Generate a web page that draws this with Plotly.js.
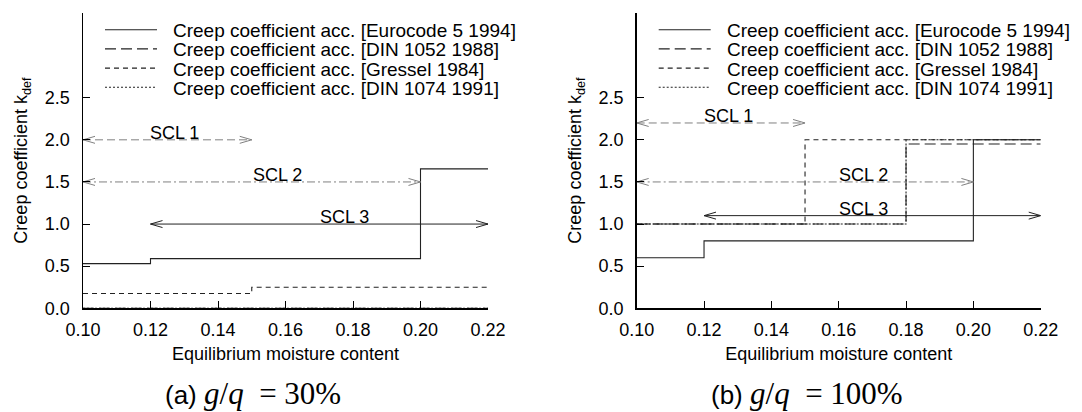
<!DOCTYPE html>
<html>
<head>
<meta charset="utf-8">
<script src="https://cdn.plot.ly/plotly-3.0.1.min.js"></script>
<style>html,body{margin:0;padding:0;background:#fff;}#chart{width:1082px;height:412px;}</style>
</head>
<body>
<div id="chart"></div>
<script>
// ---------- data ----------
var seriesNames = [
  'Creep coefficient acc. [Eurocode 5 1994]',
  'Creep coefficient acc. [DIN 1052 1988]',
  'Creep coefficient acc. [Gressel 1984]',
  'Creep coefficient acc. [DIN 1074 1991]'
];
var xTicks = [0.10, 0.12, 0.14, 0.16, 0.18, 0.20, 0.22];
var yTicks = [0.0, 0.5, 1.0, 1.5, 2.0, 2.5];

// (a) g/q = 30%  (step functions: value holds from x[i] to x[i+1])
var euroA_x = [0.10, 0.12, 0.20, 0.22];
var euroA_y = [0.53, 0.59, 1.655, 1.655];
var din1052A_x = [0.10, 0.22];
var din1052A_y = [0.0, 0.0];
var gresselA_x = [0.10, 0.15, 0.22];
var gresselA_y = [0.175, 0.25, 0.25];
var din1074A_x = [0.10, 0.22];
var din1074A_y = [0.0, 0.0];

// (b) g/q = 100%
var euroB_x = [0.10, 0.12, 0.20, 0.22];
var euroB_y = [0.60, 0.80, 2.00, 2.00];
var din1052B_x = [0.10, 0.18, 0.22];
var din1052B_y = [1.00, 1.95, 1.95];
var gresselB_x = [0.10, 0.15, 0.22];
var gresselB_y = [1.00, 2.00, 2.00];
var din1074B_x = [0.10, 0.18, 0.22];
var din1074B_y = [1.00, 2.00, 2.00];

// service class ranges
var sclNames = ['SCL 1', 'SCL 2', 'SCL 3'];
var sclStartA = [0.10, 0.10, 0.12];
var sclEndA   = [0.15, 0.20, 0.22];
var sclLevelA = [2.0, 1.5, 1.0];
var sclLabelXA = [0.127, 0.1575, 0.1776];
var sclStartB = [0.10, 0.10, 0.12];
var sclEndB   = [0.15, 0.20, 0.22];
var sclLevelB = [2.2, 1.5, 1.1];
var sclLabelXB = [0.1274, 0.1675, 0.1675];

var captions = ['(a) ', '(b) '];
var captionMath = ['<i>g</i>/<i>q</i>&nbsp;&nbsp;=&nbsp;30%', '<i>g</i>/<i>q</i>&nbsp;&nbsp;=&nbsp;100%'];

// ---------- styles ----------
var lineColor = '#222';
var sclColor = '#808080';
var seriesDash = ['solid', '11px,5px', '5px,4px', '2px,2px'];
var sclDash = ['8px,4px', '8px,3px,2px,3px', 'solid'];
var sclColors = [sclColor, sclColor, lineColor];
var FONT = 'Liberation Sans, Arial, Helvetica, sans-serif';
var W = 1082, H = 412;

var xRange = [0.10, 0.22], yRange = [0, 3.509];
var pxX = (xRange[1] - xRange[0]) / 405;   // data units per pixel
var pxY = 2.5 / 210.6;
var headLen = 12 * pxX, headHalf = 3.5 * pxY;

var traces = [];
function addPanel(xs, ys, xa, ya) {
  for (var i = 0; i < 4; i++) {
    traces.push({
      type: 'scatter', mode: 'lines', x: xs[i], y: ys[i],
      xaxis: xa, yaxis: ya, name: seriesNames[i], showlegend: false,
      line: {shape: 'hv', color: lineColor, width: 1.1, dash: seriesDash[i]},
      hoverinfo: 'skip'
    });
  }
}
function addScl(starts, ends, levels, xa, ya) {
  for (var i = 0; i < starts.length; i++) {
    var s = starts[i], e = ends[i], l = levels[i];
    traces.push({type: 'scatter', mode: 'lines', x: [s, e], y: [l, l], xaxis: xa, yaxis: ya,
      name: sclNames[i], showlegend: false, hoverinfo: 'skip', line: {color: sclColors[i], width: 1, dash: sclDash[i]}});
    // open arrow heads at both ends
    traces.push({type: 'scatter', mode: 'lines',
      x: [s + headLen, s, s + headLen, null, e - headLen, e, e - headLen],
      y: [l + headHalf, l, l - headHalf, null, l + headHalf, l, l - headHalf],
      xaxis: xa, yaxis: ya, showlegend: false, hoverinfo: 'skip',
      line: {color: sclColors[i], width: 1}});
  }
}
addPanel([euroA_x, din1052A_x, gresselA_x, din1074A_x], [euroA_y, din1052A_y, gresselA_y, din1074A_y], 'x', 'y');
addPanel([euroB_x, din1052B_x, gresselB_x, din1074B_x], [euroB_y, din1052B_y, gresselB_y, din1074B_y], 'x2', 'y2');
addScl(sclStartA, sclEndA, sclLevelA, 'x', 'y');
addScl(sclStartB, sclEndB, sclLevelB, 'x2', 'y2');

var annotations = [], shapes = [];
function addSclLabels(lx, levels, xa, ya) {
  for (var i = 0; i < sclNames.length; i++) {
    annotations.push({xref: xa, yref: ya, x: lx[i], y: levels[i], text: sclNames[i],
      showarrow: false, xanchor: 'center', yanchor: 'bottom', yshift: -5,
      font: {family: FONT, size: 18, color: '#000'}});
  }
}
addSclLabels(sclLabelXA, sclLevelA, 'x', 'y');
addSclLabels(sclLabelXB, sclLevelB, 'x2', 'y2');

// legend (drawn as key lines + labels, one per panel)
var axisLeftPx = [83, 636.7];
for (var p = 0; p < 2; p++) {
  for (var i = 0; i < seriesNames.length; i++) {
    var ry = 29.7 + i * 19.2;
    shapes.push({type: 'line', xref: 'paper', yref: 'paper',
      x0: (axisLeftPx[p] + 22) / W, x1: (axisLeftPx[p] + 74) / W,
      y0: (H - ry) / H, y1: (H - ry) / H,
      line: {color: lineColor, width: 1.1, dash: seriesDash[i]}});
    annotations.push({xref: 'paper', yref: 'paper', x: (axisLeftPx[p] + 88) / W, y: (H - ry - 1) / H,
      text: seriesNames[i], showarrow: false, xanchor: 'left', yanchor: 'middle',
      font: {family: FONT, size: 19, color: '#000'}});
  }
}

var capX = [253 / W, 807 / W];
for (var c = 0; c < 2; c++) {
  annotations.push({xref: 'paper', yref: 'paper', x: capX[c], y: (H - 393) / H, showarrow: false,
    xanchor: 'center', yanchor: 'middle',
    text: captions[c] + '<span style="font-family:Liberation Serif, DejaVu Serif, serif;font-size:31px">' + captionMath[c] + '</span>',
    font: {family: FONT, size: 26, color: '#000'}});
}

function xAxis(domain, anchor) {
  return {domain: domain, anchor: anchor, range: xRange, tickvals: xTicks, tickformat: '.2f',
    ticks: 'inside', ticklen: 7, tickcolor: '#000', tickwidth: 1, showline: true, linecolor: '#000',
    linewidth: 1.5, showgrid: false, zeroline: false, ticklabelstandoff: 5,
    tickfont: {family: FONT, size: 18, color: '#000'},
    title: {text: 'Equilibrium moisture content', font: {family: FONT, size: 18, color: '#000'}, standoff: 8},
    fixedrange: true};
}
function yAxis(anchor) {
  return {domain: [(H - 308.3) / H, (H - 12.7) / H], anchor: anchor, range: yRange,
    tickvals: yTicks, tickformat: '.1f', ticks: 'inside', ticklen: 7, tickcolor: '#000', tickwidth: 1,
    showline: true, linecolor: '#000', linewidth: 1.5, showgrid: false, zeroline: false,
    ticklabelstandoff: 8,
    tickfont: {family: FONT, size: 18, color: '#000'},
    title: {text: 'Creep coefficient k<sub>def</sub>', font: {family: FONT, size: 18, color: '#000'}, standoff: 12},
    fixedrange: true};
}

var layout = {
  width: W, height: H, margin: {l: 0, r: 0, t: 0, b: 0},
  paper_bgcolor: '#fff', plot_bgcolor: '#fff', showlegend: false,
  xaxis: xAxis([83 / W, 488 / W], 'y'),
  yaxis: yAxis('x'),
  xaxis2: xAxis([636.7 / W, 1040.7 / W], 'y2'),
  yaxis2: yAxis('x2'),
  annotations: annotations,
  shapes: shapes
};
Plotly.newPlot('chart', traces, layout, {staticPlot: true, displayModeBar: false});
</script>
</body>
</html>
